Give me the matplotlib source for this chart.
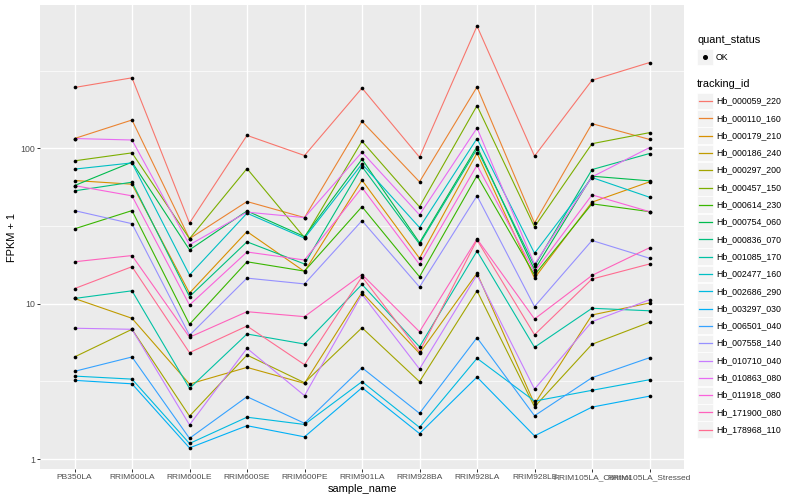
import numpy as np
import matplotlib
matplotlib.use("Agg")
import matplotlib.pyplot as plt
from matplotlib.patches import Rectangle
from matplotlib.lines import Line2D
from matplotlib.ticker import FixedLocator, NullFormatter

plt.rcParams['font.family'] = ['Liberation Sans', 'DejaVu Sans']

samples = ["PB350LA", "RRIM600LA", "RRIM600LE", "RRIM600SE", "RRIM600PE",
           "RRIM901LA", "RRIM928BA", "RRIM928LA", "RRIM928LE",
           "RRIM105LA_Control", "RRIM105LA_Stressed"]

tracking_ids = ["Hb_000059_220", "Hb_000110_160", "Hb_000179_210", "Hb_000186_240",
                "Hb_000297_200", "Hb_000457_150", "Hb_000614_230", "Hb_000754_060",
                "Hb_000836_070", "Hb_001085_170", "Hb_002477_160", "Hb_002686_290",
                "Hb_003297_030", "Hb_006501_040", "Hb_007558_140", "Hb_010710_040",
                "Hb_010863_080", "Hb_011918_080", "Hb_171900_080", "Hb_178968_110"]

# FPKM + 1 per sample (order of samples)
hb_000059_220 = [246, 284, 33, 121, 89.8, 244, 87.6, 611, 89, 274, 356]
hb_000110_160 = [115.5, 152, 26.2, 45.4, 35.8, 149, 60.8, 248, 33, 144, 114]
hb_000179_210 = [62, 58.7, 11.7, 29.1, 16.1, 62.3, 19.6, 93, 14.6, 45, 60.8]
hb_000186_240 = [10.8, 8.05, 3.04, 3.89, 3.07, 11.8, 4.79, 15.7, 2.26, 8.46, 10.1]
hb_000297_200 = [4.54, 6.84, 1.89, 4.67, 3.10, 7.0, 3.15, 12.1, 2.17, 5.48, 7.59]
hb_000457_150 = [83, 93.4, 26.2, 74, 26.6, 111, 42, 188, 31.2, 107, 126]
hb_000614_230 = [30.3, 39.7, 7.37, 18.6, 16.2, 42.1, 14.9, 66.7, 15.3, 43.9, 39.1]
hb_000754_060 = [57.5, 81.4, 22.2, 39.5, 27, 85.1, 24.7, 102.5, 16.5, 66.1, 61.7]
hb_000836_070 = [53.2, 60.5, 11.1, 25, 18, 76.2, 24.2, 99, 17.5, 72.9, 92.5]
hb_001085_170 = [10.8, 12.1, 2.85, 6.38, 5.5, 13.3, 5.28, 21.8, 5.24, 9.34, 9.0]
hb_002477_160 = [73.4, 80.5, 15.3, 38.2, 26.4, 79.3, 30.9, 115.5, 21.1, 64.8, 48.4]
hb_002686_290 = [3.42, 3.27, 1.26, 1.86, 1.67, 3.15, 1.60, 4.45, 2.36, 2.77, 3.24]
hb_003297_030 = [3.21, 3.05, 1.18, 1.64, 1.39, 2.88, 1.46, 3.37, 1.41, 2.16, 2.54]
hb_006501_040 = [3.67, 4.54, 1.36, 2.52, 1.70, 3.87, 1.97, 6.04, 1.90, 3.34, 4.49]
hb_007558_140 = [39.7, 32.7, 6.26, 14.6, 13.4, 34.2, 12.8, 49.4, 9.57, 25.5, 19.6]
hb_010710_040 = [6.95, 6.84, 1.66, 5.16, 2.56, 11.5, 3.8, 15.3, 2.82, 7.66, 10.6]
hb_010863_080 = [115.5, 113, 23.9, 38.8, 35.8, 94.4, 37.3, 135, 17.9, 65.4, 101]
hb_011918_080 = [57.5, 49.4, 9.8, 21.5, 19.1, 55.8, 17.9, 77.8, 16, 50.1, 39.1]
hb_171900_080 = [18.6, 20.4, 6.08, 8.88, 8.25, 15.4, 6.6, 26.1, 7.97, 15.2, 22.9]
hb_178968_110 = [12.5, 17.3, 4.84, 7.18, 4.05, 14.9, 4.91, 25.7, 6.31, 14.4, 18]

series = [hb_000059_220, hb_000110_160, hb_000179_210, hb_000186_240, hb_000297_200,
          hb_000457_150, hb_000614_230, hb_000754_060, hb_000836_070, hb_001085_170,
          hb_002477_160, hb_002686_290, hb_003297_030, hb_006501_040, hb_007558_140,
          hb_010710_040, hb_010863_080, hb_011918_080, hb_171900_080, hb_178968_110]

colors = ["#F8766D", "#EA8331", "#D89000", "#C09B00", "#A3A500", "#7CAE00", "#39B600",
          "#00BB4E", "#00BF7D", "#00C1A3", "#00BFC4", "#00BAE0", "#00B0F6", "#35A2FF",
          "#9590FF", "#C77CFF", "#E76BF3", "#FA62DB", "#FF62BC", "#FF6C91"]

W, H = 800, 500
fig = plt.figure(figsize=(W / 100, H / 100), dpi=100)
fig.patch.set_facecolor('white')

def fx(p):
    return p / W

def fy(p):
    return 1 - p / H

L, R, T, B = 40, 684, 5, 469
ax = fig.add_axes([fx(L), fy(B), (R - L) / W, (B - T) / H])
ax.set_facecolor('#EBEBEB')

x = np.arange(len(samples))
for vals, c in zip(series, colors):
    ax.plot(x, vals, color=c, lw=0.8, zorder=2, solid_capstyle='butt')
for vals in series:
    ax.scatter(x, vals, s=7, color='black', zorder=3, linewidths=0)

ax.set_yscale('log')
allv = np.log10(np.concatenate([np.asarray(s, float) for s in series]))
lo, hi = allv.min(), allv.max()
pad = 0.05 * (hi - lo)
ax.set_ylim(10 ** (lo - pad), 10 ** (hi + pad))
ax.set_xlim(-0.6, len(samples) - 0.4)

ax.yaxis.set_major_locator(FixedLocator([1, 10, 100]))
ax.set_yticklabels(["1", "10", "100"])
ax.yaxis.set_minor_locator(FixedLocator([10 ** 0.5, 10 ** 1.5, 10 ** 2.5]))
ax.yaxis.set_minor_formatter(NullFormatter())
ax.set_xticks(x)
ax.set_xticklabels(samples)

ax.grid(which='major', color='white', lw=1.0)
ax.grid(which='minor', axis='y', color='white', lw=0.5)
ax.set_axisbelow(True)
ax.tick_params(which='minor', length=0)
ax.tick_params(which='major', length=2.0, width=0.7, color='#333333',
               labelsize=6.3, labelcolor='#4D4D4D', pad=1.6)
ax.tick_params(axis='x', which='major', labelsize=6.0)
for sp in ax.spines.values():
    sp.set_visible(False)

ax.set_xlabel("sample_name", fontsize=7.9, color='black', labelpad=2)
ax.set_ylabel("FPKM + 1", fontsize=7.9, color='black', labelpad=2)

# legends
fig.text(fx(697), fy(40), "quant_status", fontsize=7.9, va='center', ha='left')
fig.patches.append(Rectangle((fx(697), fy(65)), 16 / W, 16 / H, transform=fig.transFigure,
                             facecolor='#F2F2F2', edgecolor='white', lw=0.5))
fig.lines.append(Line2D([fx(705)], [fy(57)], marker='o', markersize=2.6, color='black',
                        transform=fig.transFigure, linestyle='none'))
fig.text(fx(716), fy(57), "OK", fontsize=6.3, va='center', ha='left')

fig.text(fx(697), fy(84), "tracking_id", fontsize=7.9, va='center', ha='left')
step = 17.3
for i, (name, c) in enumerate(zip(tracking_ids, colors)):
    cy = 101 + i * step
    fig.patches.append(Rectangle((fx(697), fy(cy + 8.4)), 16 / W, 16.8 / H,
                                 transform=fig.transFigure, facecolor='#F2F2F2',
                                 edgecolor='white', lw=0.5))
    fig.lines.append(Line2D([fx(698.5), fx(711.5)], [fy(cy), fy(cy)], color=c, lw=0.9,
                            transform=fig.transFigure))
    fig.text(fx(716), fy(cy), name, fontsize=6.3, va='center', ha='left')

fig.savefig("out.png", dpi=100)
